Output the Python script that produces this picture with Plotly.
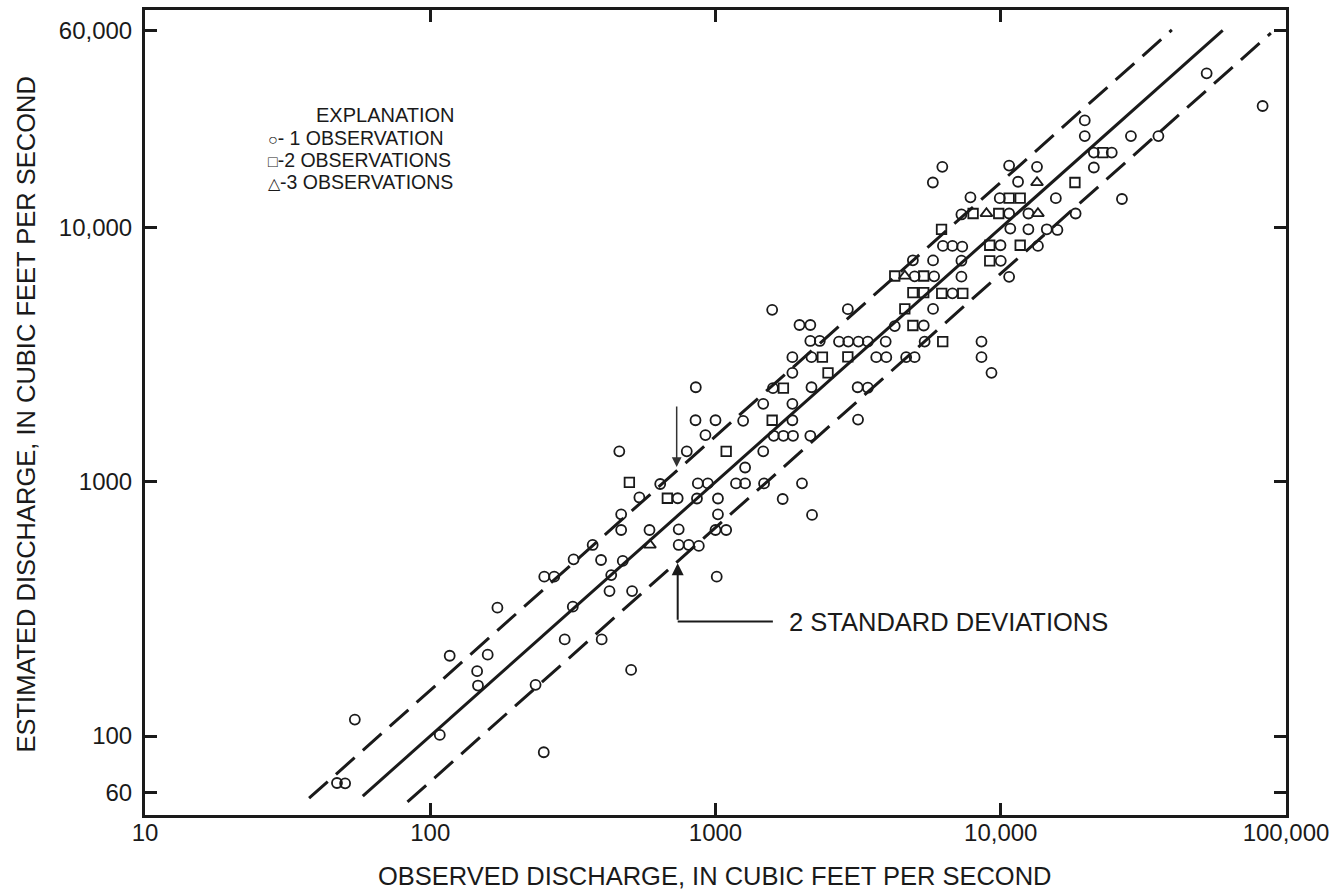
import plotly.graph_objects as go
import math

# ---------------- data ----------------
# single observations (open circles): observed, estimated discharge (cfs)
circle_obs = [52700, 82800, 35700, 28600, 19700, 19700, 21200, 24500, 21200, 6240,
              5780, 10700, 13400, 11500, 7830, 9920, 15600, 26600, 7280, 10700,
              12500, 18300, 10800, 12500, 14500, 15800, 6270, 6770, 7330, 9980,
              13500, 4920, 5790, 7280, 10000, 4990, 5840, 7280, 10700, 6770,
              5790, 1580, 2910, 4250, 5370, 1970, 2150, 2150, 2320, 2710,
              2920, 3170, 3420, 3950, 5410, 8560, 1860, 2170, 3660, 3970,
              4660, 4990, 8560, 1860, 9280, 853, 1590, 2170, 3150, 3420,
              1470, 1860, 851, 1000, 1250, 1860, 3160, 922, 1600, 1730,
              1870, 2150, 460, 793, 1470, 1270, 640, 867, 940, 1180,
              1270, 1480, 2010, 541, 737, 861, 1020, 1720, 2180, 467,
              1020, 467, 587, 743, 1000, 1090, 371, 743, 806, 874,
              318, 397, 473, 431, 251, 272, 1010, 425, 510, 172,
              316, 296, 399, 117, 159, 146, 147, 234, 506, 54.4,
              108, 250, 47.1, 50.3]
circle_est = [40600, 30200, 23000, 23000, 26500, 23000, 19800, 19800, 17300, 17400,
              15100, 17600, 17400, 15200, 13200, 13100, 13100, 13000, 11300, 11400,
              11400, 11400, 9940, 9880, 9880, 9820, 8500, 8500, 8440, 8550,
              8500, 7460, 7450, 7430, 7420, 6450, 6450, 6430, 6420, 5530,
              4800, 4760, 4790, 4110, 4130, 4150, 4150, 3590, 3590, 3570,
              3570, 3570, 3570, 3570, 3570, 3570, 3100, 3100, 3100, 3100,
              3100, 3100, 3100, 2690, 2690, 2360, 2340, 2360, 2360, 2350,
              2030, 2030, 1750, 1750, 1740, 1750, 1760, 1530, 1520, 1520,
              1520, 1520, 1320, 1320, 1320, 1140, 982, 987, 987, 987,
              987, 987, 988, 869, 863, 861, 861, 857, 742, 746,
              746, 647, 647, 651, 647, 647, 565, 565, 565, 560,
              496, 493, 489, 430, 424, 424, 424, 372, 372, 320,
              323, 240, 240, 207, 209, 180, 158, 159, 182, 116,
              101, 86.3, 65.3, 65.1]

# two observations (open squares)
square_obs = [22800, 18200, 10700, 11700, 8000, 9840, 6200, 9150, 11700, 9150,
              4250, 5370, 4920, 5370, 6210, 7360, 4610, 4920, 6260, 2370,
              2910, 2480, 1730, 1580, 1090, 499, 678]
square_est = [19800, 15100, 13100, 13100, 11400, 11400, 9880, 8550, 8550, 7420,
              6470, 6470, 5560, 5560, 5530, 5530, 4800, 4130, 3570, 3100,
              3110, 2690, 2340, 1750, 1320, 997, 863]

# three observations (open triangles)
triangle_obs = [13400, 8910, 13500, 4610, 589]
triangle_est = [15100, 11400, 11400, 6470, 565]

# line of equal discharge and +/- 2 standard deviation lines (end points)
equal_obs = [58, 60000]
equal_est = [58, 60000]
upper_obs = [37.6, 39800]
upper_est = [56.9, 60200]
lower_obs = [83.2, 88500]
lower_est = [55.0, 58500]

x_tickvals = [10, 100, 1000, 10000, 100000]
x_ticktext = ["10", "100", "1000", "10,000", "100,000"]
y_tickvals = [60, 100, 1000, 10000, 60000]
y_ticktext = ["60", "100", "1000", "10,000", "60,000"]

# ---------------- styling ----------------
INK = "#1a1a1a"
FONT = "Liberation Sans, Arial, Helvetica, sans-serif"

W, H = 1343, 892
ML, MR, MT, MB = 145, 57, 10, 77
PW, PH = W - ML - MR, H - MT - MB


def px_x(px):
    return (px - ML) / PW


def px_y(py):
    return (H - MB - py) / PH


fig = go.Figure()

fig.add_trace(go.Scatter(x=upper_obs, y=upper_est, mode="lines",
                         line=dict(color=INK, width=3, dash="25px,11px"),
                         hoverinfo="skip", showlegend=False))
fig.add_trace(go.Scatter(x=lower_obs, y=lower_est, mode="lines",
                         line=dict(color=INK, width=3, dash="25px,11px"),
                         hoverinfo="skip", showlegend=False))
fig.add_trace(go.Scatter(x=equal_obs, y=equal_est, mode="lines",
                         line=dict(color=INK, width=3),
                         hoverinfo="skip", showlegend=False))

fig.add_trace(go.Scatter(x=circle_obs, y=circle_est, mode="markers", name="1 observation",
                         marker=dict(symbol="circle-open", size=10, color=INK,
                                     line=dict(width=1.8, color=INK)),
                         showlegend=False))
fig.add_trace(go.Scatter(x=square_obs, y=square_est, mode="markers", name="2 observations",
                         marker=dict(symbol="square-open", size=9.5, color=INK,
                                     line=dict(width=1.8, color=INK)),
                         showlegend=False))
fig.add_trace(go.Scatter(x=triangle_obs, y=triangle_est, mode="markers", name="3 observations",
                         marker=dict(symbol="triangle-up-open", size=10.5, color=INK,
                                     line=dict(width=1.8, color=INK)),
                         showlegend=False))

axis_common = dict(
    type="log", showgrid=False, zeroline=False,
    showline=True, linewidth=3, linecolor=INK, mirror="ticks",
    ticks="inside", ticklen=12, tickwidth=3, tickcolor=INK,
    tickfont=dict(family=FONT, size=24, color=INK),
)

fig.update_xaxes(range=[1, 5], tickvals=x_tickvals, ticktext=x_ticktext,
                 ticklabelstandoff=-6, **axis_common)
fig.update_yaxes(range=[1.689, 4.858], tickvals=y_tickvals, ticktext=y_ticktext,
                 ticklabelstandoff=5, **axis_common)

annotations = []
# axis titles
annotations.append(dict(text="OBSERVED DISCHARGE, IN CUBIC FEET PER SECOND",
                        xref="paper", yref="paper", x=px_x(714.5), y=px_y(876),
                        xanchor="center", yanchor="middle", showarrow=False,
                        font=dict(family=FONT, size=25.5, color=INK)))
annotations.append(dict(text="ESTIMATED DISCHARGE, IN CUBIC FEET PER SECOND",
                        xref="paper", yref="paper", x=px_x(25), y=px_y(414.5),
                        xanchor="center", yanchor="middle", showarrow=False, textangle=-90,
                        font=dict(family=FONT, size=25.5, color=INK)))
# explanation block
annotations.append(dict(text="EXPLANATION", xref="paper", yref="paper",
                        x=px_x(385), y=px_y(115), xanchor="center", yanchor="middle",
                        showarrow=False,
                        font=dict(family=FONT, size=20, color=INK)))
expl_lines = [
    ('<span style="font-size:16px">○</span>- 1 OBSERVATION', 137.5),
    ('<span style="font-size:16px">□</span>-2 OBSERVATIONS', 159.5),
    ('<span style="font-size:16px">△</span>-3 OBSERVATIONS', 181.5),
]
for txt, py in expl_lines:
    annotations.append(dict(text=txt, xref="paper", yref="paper",
                            x=px_x(266), y=px_y(py), xanchor="left", yanchor="middle",
                            showarrow=False,
                            font=dict(family=FONT, size=19.5, color=INK)))

# arrow pointing down to the upper 2-standard-deviation line
annotations.append(dict(text="", x=math.log10(731), y=math.log10(1146), xref="x", yref="y",
                        showarrow=True, ax=0, ay=-62, arrowhead=2, arrowsize=1.3,
                        arrowwidth=1.5, arrowcolor="#333"))
# arrow pointing up to the lower 2-standard-deviation line
annotations.append(dict(text="", x=math.log10(737), y=math.log10(479), xref="x", yref="y",
                        showarrow=True, ax=0, ay=58, arrowhead=2, arrowsize=1.2,
                        arrowwidth=2, arrowcolor=INK))
annotations.append(dict(text="2 STANDARD DEVIATIONS", x=math.log10(1775), y=math.log10(282),
                        xref="x", yref="y", xanchor="left", yanchor="middle", showarrow=False,
                        font=dict(family=FONT, size=25.5, color=INK)))

shapes = [dict(type="line", xref="x", yref="y", x0=737, x1=1589, y0=282, y1=282,
               line=dict(color=INK, width=2))]

fig.update_layout(
    width=W, height=H,
    margin=dict(l=ML, r=MR, t=MT, b=MB, autoexpand=False),
    paper_bgcolor="white", plot_bgcolor="white",
    font=dict(family=FONT, color=INK),
    annotations=annotations, shapes=shapes,
    showlegend=False,
)

fig.write_html("out.html", config={"displayModeBar": False},
               post_script="document.body.style.margin='0';document.body.style.overflow='hidden';")
